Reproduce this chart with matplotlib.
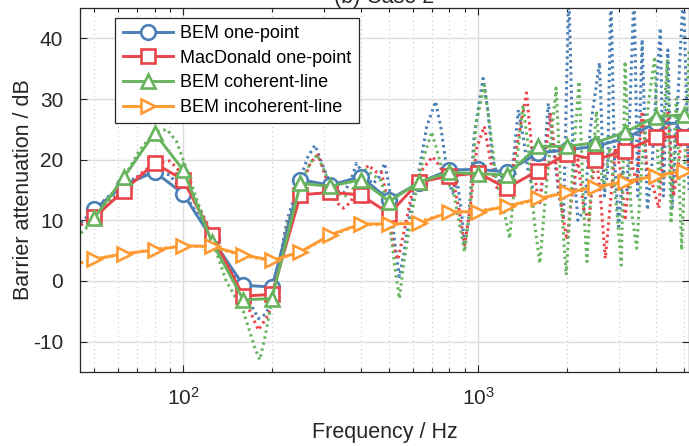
import matplotlib
matplotlib.use("Agg")
import matplotlib.pyplot as plt
from matplotlib.ticker import LogLocator, NullFormatter

plt.rcParams['font.family'] = ['Liberation Sans', 'DejaVu Sans']
plt.rcParams['mathtext.fontset'] = 'custom'
plt.rcParams['mathtext.rm'] = 'Liberation Sans'
plt.rcParams['axes.unicode_minus'] = False

# --------------------
# One-third octave band results (markers)
# --------------------
band_freq = [50, 63, 80, 100, 125, 160, 200, 250, 315, 400, 500, 630,
             800, 1000, 1250, 1600, 2000, 2500, 3150, 4000, 5000]

bem_point = [11.8, 15.8, 18.0, 14.4, 7.0, -0.7, -1.0, 16.7, 15.8, 17.2, 13.4, 16.2,
             18.3, 18.4, 18.0, 21.1, 21.6, 22.2, 23.5, 26.0, 26.0]
macd_point = [10.5, 14.9, 19.4, 16.7, 7.6, -2.5, -2.2, 14.2, 14.6, 14.2, 11.1, 16.3,
              17.3, 17.8, 15.3, 18.2, 21.0, 20.0, 21.5, 23.7, 23.8]
bem_coh = [10.4, 17.1, 24.4, 18.3, 6.5, -3.1, -2.9, 16.1, 15.6, 16.7, 13.1, 16.3,
           17.9, 17.7, 17.5, 22.2, 22.2, 22.8, 24.5, 27.1, 27.4]
bem_incoh = [3.6, 4.5, 5.1, 5.8, 5.7, 4.3, 3.4, 4.8, 7.6, 9.4, 9.4, 9.5,
             11.4, 11.4, 12.3, 13.6, 14.6, 15.5, 16.4, 17.3, 18.2]

# --------------------
# Narrow-band results (dotted)
# --------------------
nb_freq_bem = [45, 50, 56, 63, 71, 80, 90, 100, 112, 125, 140, 160, 180, 190, 200, 212,
               225, 250, 265, 280, 295, 315, 335, 350, 370, 387, 410, 440, 460, 482,
               500, 520, 541, 560, 590, 630, 670, 718, 750, 790, 820, 850, 880, 900,
               930, 970, 1040, 1080, 1120, 1180, 1230, 1290, 1330, 1370, 1420, 1480,
               1550, 1620, 1680, 1730, 1800, 1880, 1950, 2030, 2100, 2180, 2300, 2400,
               2580, 2680, 2750, 2820, 2900, 3000, 3100, 3200, 3380, 3480, 3600, 3750,
               3900, 4000, 4150, 4250, 4400, 4550, 4700, 4970, 5190]
nb_bem = [9.6, 11.8, 14.0, 16.0, 17.3, 18.0, 17.5, 14.6, 11.0, 7.5, 3.0, -1.5, -6.2, -5.5,
          -3.5, 3.0, 10.0, 17.0, 20.5, 22.4, 19.5, 16.0, 14.8, 14.5, 16.5, 19.4, 17.5,
          16.0, 17.0, 19.4, 15.5, 7.0, 0.7, 4.5, 12.0, 18.0, 25.5, 29.6, 25.0, 17.0,
          14.5, 16.5, 11.0, 5.9, 10.0, 24.0, 33.4, 28.0, 20.0, 16.5, 14.5, 16.0, 22.0,
          28.2, 24.0, 18.0, 14.5, 12.9, 20.0, 29.3, 22.0, 14.0, 10.6, 48.0, 20.0, 10.0,
          12.0, 25.0, 36.0, 14.0, 18.0, 48.0, 20.0, 9.0, 18.0, 15.0, 48.0, 14.0, 39.8,
          11.7, 20.0, 30.0, 41.7, 14.0, 38.1, 12.0, 25.0, 48.0, 15.0]

nb_freq_macd = [45, 50, 56, 63, 71, 80, 90, 100, 112, 125, 140, 160, 180, 195, 210, 225,
                250, 270, 287, 305, 330, 350, 370, 400, 424, 450, 470, 490, 515, 535,
                560, 600, 650, 700, 740, 780, 820, 860, 900, 940, 990, 1050, 1100, 1150,
                1200, 1270, 1350, 1460, 1520, 1580, 1620, 1680, 1760, 1850, 1950, 2000,
                2080, 2180, 2280, 2380, 2500, 2600, 2700, 2800, 2920, 3050, 3150, 3300,
                3450, 3600, 3750, 3900, 4100, 4250, 4400, 4600, 4800, 5000, 5190]
nb_macd = [9.2, 11.0, 13.0, 15.0, 17.5, 19.4, 19.8, 17.5, 12.5, 8.0, 3.0, -2.5, -8.1,
           -5.5, 2.0, 9.0, 15.0, 19.5, 20.8, 17.0, 13.0, 12.0, 13.0, 17.0, 19.1, 18.0,
           18.0, 14.0, 6.0, 3.5, 8.0, 15.0, 18.5, 20.5, 19.0, 17.0, 17.0, 12.0, 5.9,
           12.0, 22.0, 25.5, 20.0, 15.6, 14.5, 14.5, 22.0, 31.0, 22.0, 15.0, 13.0, 20.0,
           27.7, 18.0, 10.0, 6.8, 14.0, 20.0, 12.0, 10.0, 22.0, 14.0, 3.7, 12.0, 22.0,
           18.0, 10.0, 20.0, 16.0, 28.0, 18.0, 16.0, 12.0, 22.0, 28.0, 14.0, 20.0, 28.0,
           18.0]

nb_freq_coh = [45, 50, 56, 63, 71, 80, 88, 95, 100, 112, 125, 140, 160, 175, 182, 190,
               200, 212, 225, 250, 270, 285, 305, 330, 363, 385, 410, 440, 470, 495,
               520, 541, 560, 600, 650, 697, 740, 780, 820, 860, 900, 940, 985, 1050,
               1100, 1150, 1220, 1280, 1340, 1420, 1480, 1550, 1620, 1700, 1840, 1920,
               1990, 2100, 2200, 2280, 2340, 2430, 2520, 2650, 2800, 2950, 3060, 3150,
               3300, 3450, 3600, 3800, 3970, 4100, 4250, 4380, 4510, 4700, 4900, 5190]
nb_coh = [7.9, 10.0, 13.0, 17.0, 21.5, 24.5, 25.0, 23.0, 20.0, 13.0, 7.0, 0.0, -5.0,
          -11.0, -13.0, -9.0, -3.0, 3.0, 9.0, 16.0, 19.5, 20.8, 17.5, 14.5, 13.9, 16.0,
          18.5, 17.5, 16.5, 12.0, 3.0, -2.9, 3.0, 12.0, 20.0, 24.6, 20.0, 16.0, 15.5,
          10.0, 4.8, 12.0, 26.0, 32.3, 25.0, 17.0, 12.0, 7.0, 18.0, 29.0, 22.0, 10.0,
          2.9, 15.0, 31.8, 12.0, 1.0, 20.0, 32.9, 12.0, 3.2, 18.0, 28.0, 15.0, 22.0,
          12.0, 2.6, 36.2, 12.0, 5.4, 20.0, 30.0, 37.0, 15.0, 25.0, 36.5, 9.5, 30.0,
          5.1, 38.0]

nb_freq_incoh = [45, 50, 63, 80, 100, 125, 160, 200, 250, 315, 400, 500, 630, 800,
                 1000, 1250, 1600, 2000, 2500, 3150, 4000, 5000, 5190]
nb_incoh = [3.0, 3.6, 4.4, 5.2, 5.8, 5.6, 4.2, 3.3, 4.8, 7.5, 9.3, 9.3, 9.8, 11.2,
            11.6, 12.2, 13.5, 14.6, 15.4, 16.3, 17.4, 18.1, 18.3]

labels = ["BEM one-point", "MacDonald one-point", "BEM coherent-line", "BEM incoherent-line"]
colors = ["#4a80b6", "#e8444a", "#68b45e", "#ff9a33"]
markers = ["o", "s", "^", ">"]

fig = plt.figure(figsize=(6.89, 4.46), dpi=100)
ax = fig.add_axes([0.1161, 0.166, 0.8839, 0.816])

# dotted narrow-band curves underneath
dotted = [(nb_freq_bem, nb_bem), (nb_freq_macd, nb_macd),
          (nb_freq_coh, nb_coh), (nb_freq_incoh, nb_incoh)]
for (f, v), c in zip(dotted, colors):
    ax.plot(f, v, linestyle=(0, (0.8, 1.2)), color=c, linewidth=2.2, zorder=2)

# band results with markers
series = [bem_point, macd_point, bem_coh, bem_incoh]
for vals, c, m, lab in zip(series, colors, markers, labels):
    ax.plot(band_freq, vals, color=c, marker=m, markersize=10.5, markerfacecolor="white",
            markeredgewidth=1.9, linewidth=2.1, label=lab, zorder=3)

ax.set_xscale("log")
ax.set_xlim(44.7, 5190)
ax.set_ylim(-15, 45)
ax.set_yticks([-10, 0, 10, 20, 30, 40])
ax.xaxis.set_major_locator(LogLocator(base=10))
ax.xaxis.set_minor_locator(LogLocator(base=10, subs=range(2, 10)))
ax.xaxis.set_minor_formatter(NullFormatter())

ax.grid(True, which="major", color="#dcdcdc", linewidth=1.0, linestyle="-")
ax.grid(True, which="minor", axis="x", color="#c8c8c8", linewidth=0.8, linestyle=(0, (1, 3)))
ax.set_axisbelow(True)

ax.tick_params(which="both", direction="in", top=True, right=True, colors="#262626",
               labelsize=15, width=0.8)
ax.tick_params(which="major", length=5)
ax.tick_params(which="minor", length=3)
ax.tick_params(axis="y", pad=12)
ax.tick_params(axis="x", pad=11)
for s in ax.spines.values():
    s.set_color("#262626")
    s.set_linewidth(0.9)

ax.set_xlabel("Frequency / Hz", fontsize=15.5, color="#262626", labelpad=9)
ax.set_ylabel("Barrier attenuation / dB", fontsize=15.5, color="#262626", labelpad=-1)
ax.set_title("(b) Case 2", fontsize=15.5, color="#262626", pad=3)

leg = ax.legend(loc="upper left", bbox_to_anchor=(0.058, 0.973), fontsize=13,
                frameon=True, fancybox=False, framealpha=1, edgecolor="#262626",
                handlelength=2.8, labelspacing=0.42, borderpad=0.4, handletextpad=0.4,
                borderaxespad=0)
leg.get_frame().set_linewidth(0.9)

fig.savefig("out.png", dpi=100)
